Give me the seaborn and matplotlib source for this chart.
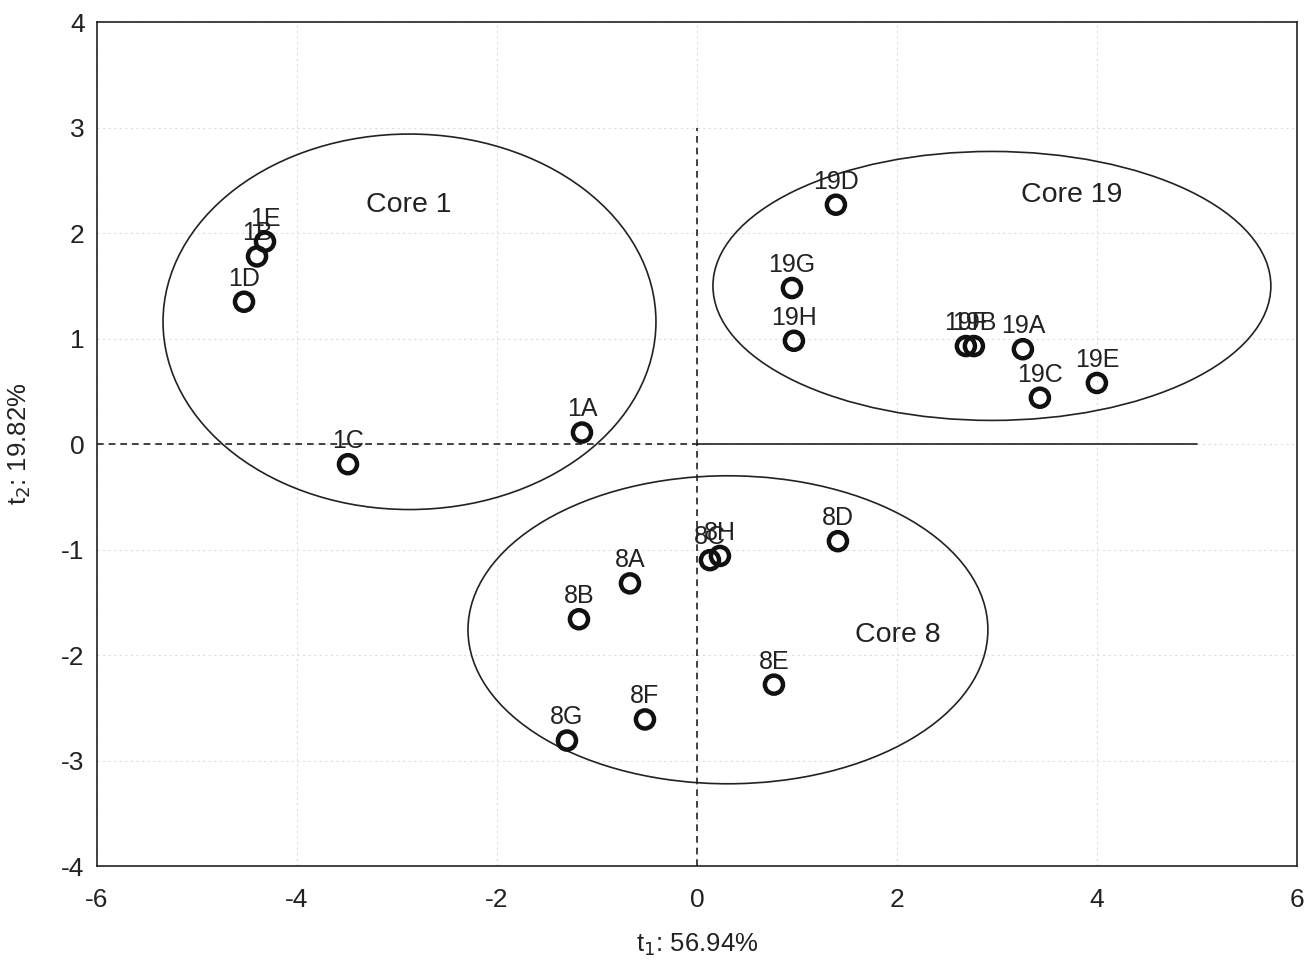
import matplotlib
matplotlib.use('Agg')
import matplotlib.pyplot as plt
import pandas as pd
import seaborn as sns
from matplotlib.patches import Ellipse

# sample scores
labels = ['1A', '1B', '1C', '1D', '1E',
          '8A', '8B', '8C', '8D', '8E', '8F', '8G', '8H',
          '19A', '19B', '19C', '19D', '19E', '19F', '19G', '19H']
t1 = [-1.15, -4.40, -3.49, -4.53, -4.32,
      -0.67, -1.18, 0.13, 1.41, 0.77, -0.52, -1.30, 0.23,
      3.26, 2.77, 3.43, 1.39, 4.00, 2.69, 0.95, 0.97]
t2 = [0.11, 1.78, -0.19, 1.35, 1.92,
      -1.32, -1.66, -1.10, -0.92, -2.28, -2.61, -2.81, -1.06,
      0.90, 0.93, 0.44, 2.27, 0.58, 0.93, 1.48, 0.98]

# group ellipses: name, centre x, centre y, width, height, label x, label y
groups = ['Core 1', 'Core 19', 'Core 8']
ell_x = [-2.875, 2.95, 0.31]
ell_y = [1.16, 1.50, -1.76]
ell_w = [4.93, 5.58, 5.20]
ell_h = [3.56, 2.55, 2.92]
text_x = [-2.88, 3.75, 2.01]
text_y = [2.27, 2.36, -1.81]

df = pd.DataFrame({'label': labels, 't1': t1, 't2': t2})

sns.set_style('white')
plt.rcParams['font.family'] = ['Liberation Sans', 'DejaVu Sans']
plt.rcParams['axes.unicode_minus'] = False

fig = plt.figure(figsize=(13.06, 9.67), dpi=100)
ax = fig.add_axes([0.0743, 0.1044, 0.9187, 0.8726])

ax.grid(True, color='#dddddd', linestyle=(0, (2, 3)), linewidth=0.8)
ax.set_axisbelow(True)

# reference lines
ax.plot([-6, 0], [0, 0], color='#222222', linestyle='--', linewidth=1.2, dashes=(4, 3))
ax.plot([0, 5], [0, 0], color='#222222', linewidth=1.2)
ax.plot([0, 0], [-4, 3], color='#222222', linestyle='--', linewidth=1.2, dashes=(4, 3))

for i in range(len(groups)):
    ax.add_patch(Ellipse((ell_x[i], ell_y[i]), ell_w[i], ell_h[i],
                         fill=False, edgecolor='#222222', linewidth=1.2))
    ax.text(text_x[i], text_y[i], groups[i], fontsize=20.5, ha='center', va='center',
            color='#222222')

sns.scatterplot(data=df, x='t1', y='t2', ax=ax, s=170, facecolors='none',
                edgecolor='#111111', linewidth=3.2, marker='o', zorder=5)

for _, row in df.iterrows():
    ax.annotate(row['label'], (row['t1'], row['t2']), xytext=(0, 8),
                textcoords='offset points', ha='center', va='bottom',
                fontsize=18, color='#222222')

ax.set_xlim(-6, 6)
ax.set_ylim(-4, 4)
ax.set_xticks(range(-6, 7, 2))
ax.set_yticks(range(-4, 5, 1))
ax.tick_params(axis='both', direction='in', labelsize=19, colors='#222222', length=5)
ax.tick_params(axis='x', pad=16)
ax.tick_params(axis='y', pad=9)
for sp in ax.spines.values():
    sp.set_color('#222222')
    sp.set_linewidth(1.2)

ax.set_xlabel('t$_1$: 56.94%', fontsize=18.5, color='#222222', labelpad=14)
ax.set_ylabel('t$_2$: 19.82%', fontsize=18.5, color='#222222', labelpad=20)

fig.savefig('out.png', dpi=100)
